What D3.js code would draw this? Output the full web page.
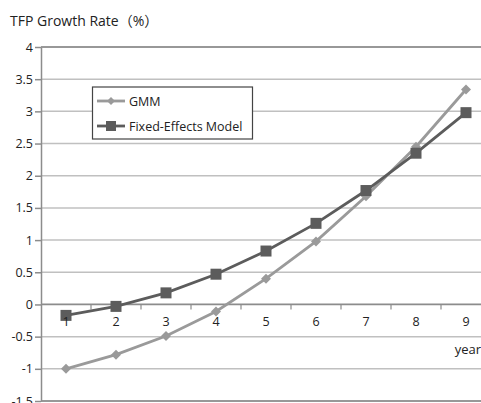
<!DOCTYPE html>
<html>
<head>
<meta charset="utf-8">
<script src="https://cdn.jsdelivr.net/npm/d3@7"></script>
<style>
  body { margin: 0; background: #fff; }
  svg text { font-family: "Open Sans", "Noto Sans CJK JP", sans-serif; fill: #222; }
</style>
</head>
<body>
<div id="chart"></div>
<script>
// data
const years = ["1", "2", "3", "4", "5", "6", "7", "8", "9"];
const gmm = [-1.0, -0.78, -0.49, -0.11, 0.40, 0.98, 1.68, 2.45, 3.34];
const fixedEffects = [-0.17, -0.03, 0.18, 0.47, 0.83, 1.26, 1.77, 2.35, 2.98];
const yTicks = [-1.5, -1, -0.5, 0, 0.5, 1, 1.5, 2, 2.5, 3, 3.5, 4];

const W = 481, H = 403;
const margin = {top: 47, left: 41};
const plotW = 450, plotH = 354;

const svg = d3.select("#chart").append("svg")
    .attr("width", W)
    .attr("height", H);

const g = svg.append("g")
    .attr("transform", `translate(${margin.left},${margin.top})`);

const x = d3.scaleBand()
    .domain(years)
    .range([0, plotW]);

const y = d3.scaleLinear()
    .domain([-1.5, 4])
    .range([plotH, 0]);

// gridlines
g.append("g")
  .selectAll("line")
  .data(yTicks.filter(d => d !== 0 && d !== 4 && d !== -1.5))
  .join("line")
    .attr("x1", 0)
    .attr("x2", plotW)
    .attr("y1", d => y(d))
    .attr("y2", d => y(d))
    .attr("stroke", "#c0c0c0")
    .attr("stroke-width", 1.5);

// top / bottom border of plot area
g.append("line")
    .attr("x1", 0).attr("x2", plotW)
    .attr("y1", y(4)).attr("y2", y(4))
    .attr("stroke", "#333").attr("stroke-width", 1.2);
g.append("line")
    .attr("x1", 0).attr("x2", plotW)
    .attr("y1", y(-1.5)).attr("y2", y(-1.5))
    .attr("stroke", "#333").attr("stroke-width", 1.2);

// y axis
const yAxis = g.append("g")
    .call(d3.axisLeft(y).tickValues(yTicks).tickSize(6).tickSizeOuter(0)
      .tickFormat(d => String(d)));
yAxis.select(".domain").attr("stroke", "#8c8c8c").attr("stroke-width", 1.5);
yAxis.selectAll(".tick line").attr("stroke", "#8c8c8c").attr("stroke-width", 1.5);
yAxis.selectAll("text")
    .attr("x", -8)
    .style("font-size", "12.5px")
    .style("fill", "#222");

// x axis line at zero
g.append("line")
    .attr("x1", 0).attr("x2", plotW)
    .attr("y1", y(0)).attr("y2", y(0))
    .attr("stroke", "#8c8c8c").attr("stroke-width", 1.8);

// category separator ticks
g.append("g")
  .selectAll("line")
  .data(years.slice(1))
  .join("line")
    .attr("x1", d => x(d))
    .attr("x2", d => x(d))
    .attr("y1", y(0))
    .attr("y2", y(0) + 5)
    .attr("stroke", "#8c8c8c")
    .attr("stroke-width", 1.2);

const line = d3.line()
    .x((d, i) => x(years[i]) + x.bandwidth() / 2)
    .y(d => y(d));

// GMM
g.append("path")
    .datum(gmm)
    .attr("fill", "none")
    .attr("stroke", "#9a9a9a")
    .attr("stroke-width", 2.8)
    .attr("d", line);

// Fixed effects
g.append("path")
    .datum(fixedEffects)
    .attr("fill", "none")
    .attr("stroke", "#5c5c5c")
    .attr("stroke-width", 2.8)
    .attr("d", line);

g.append("g")
  .selectAll("path")
  .data(gmm)
  .join("path")
    .attr("transform", (d, i) => `translate(${x(years[i]) + x.bandwidth() / 2},${y(d)})`)
    .attr("d", "M0,-5L5,0L0,5L-5,0Z")
    .attr("fill", "#9a9a9a");

g.append("g")
  .selectAll("rect")
  .data(fixedEffects)
  .join("rect")
    .attr("x", (d, i) => x(years[i]) + x.bandwidth() / 2 - 5.5)
    .attr("y", d => y(d) - 5.5)
    .attr("width", 11)
    .attr("height", 11)
    .attr("fill", "#5c5c5c");

// x labels drawn on top of the marks
const xAxis = g.append("g")
    .attr("transform", `translate(0,${y(0)})`)
    .call(d3.axisBottom(x).tickSize(0).tickPadding(13));
xAxis.select(".domain").remove();
xAxis.selectAll("text").style("font-size", "12.5px").style("fill", "#222");

// legend
svg.append("rect")
    .attr("x", 92.5).attr("y", 87)
    .attr("width", 160).attr("height", 52)
    .attr("fill", "#fff")
    .attr("stroke", "#444")
    .attr("stroke-width", 1.2);

const legend = [
  {name: "GMM", color: "#9a9a9a", shape: "diamond", y: 101},
  {name: "Fixed-Effects Model", color: "#5c5c5c", shape: "square", y: 126}
];
legend.forEach(l => {
  svg.append("line")
      .attr("x1", 97).attr("x2", 125)
      .attr("y1", l.y).attr("y2", l.y)
      .attr("stroke", l.color).attr("stroke-width", 2.8);
  if (l.shape === "diamond") {
    svg.append("path")
        .attr("transform", `translate(111,${l.y})`)
        .attr("d", "M0,-4L4,0L0,4L-4,0Z")
        .attr("fill", l.color);
  } else {
    svg.append("rect")
        .attr("x", 106).attr("y", l.y - 5)
        .attr("width", 10).attr("height", 10)
        .attr("fill", l.color);
  }
  svg.append("text")
      .attr("x", 129).attr("y", l.y + 4.5)
      .style("font-size", "12.5px")
      .text(l.name);
});

// titles
svg.append("text")
    .attr("x", 10).attr("y", 26)
    .style("font-size", "14px")
    .text("TFP Growth Rate（%）");

svg.append("text")
    .attr("x", 481).attr("y", 354)
    .attr("text-anchor", "end")
    .style("font-size", "13px")
    .text("year");
</script>
</body>
</html>
